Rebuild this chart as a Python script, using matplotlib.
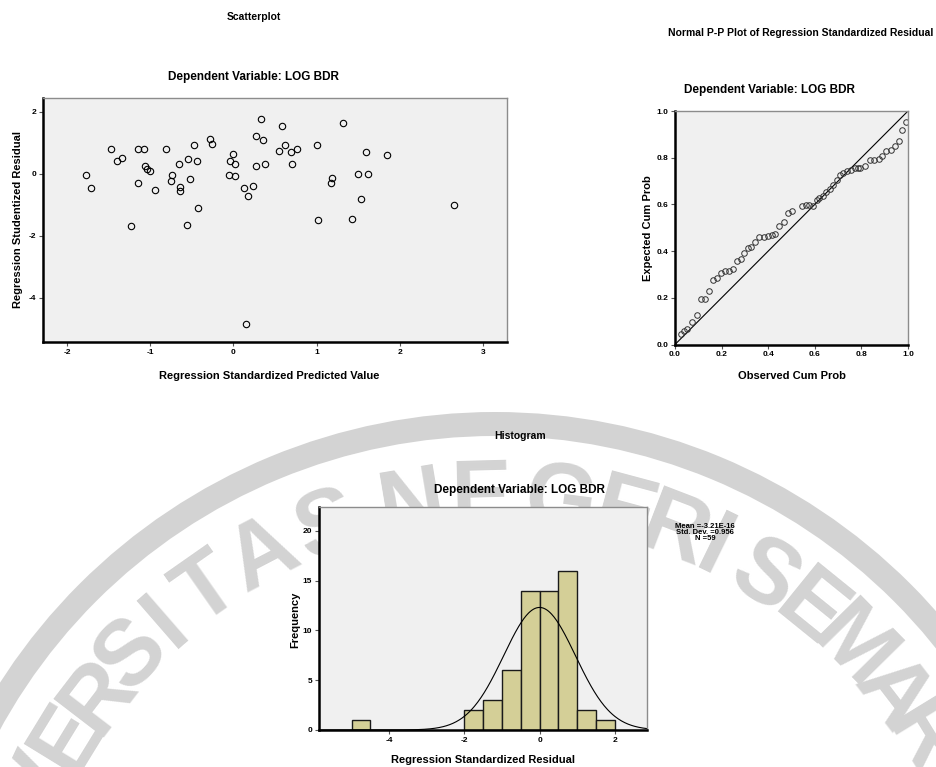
import numpy as np
import matplotlib
matplotlib.use('Agg')
from matplotlib import pyplot as plt
from matplotlib.patches import Wedge

# Scatterplot: standardized predicted value vs studentized residual
pred = [-1.77, -1.71, -1.47, -1.40, -1.34, -1.23, -1.15, -1.07, -1.15, -1.06,
        -1.04, -1.00, -0.94, -0.81, -0.74, -0.75, -0.65, -0.64, -0.64, -0.56,
        -0.55, -0.52, -0.48, -0.44, -0.42, -0.28, -0.26, -0.05, -0.04, 0.00,
        0.02, 0.02, 0.15, 0.13, 0.17, 0.24, 0.27, 0.35, 0.27, 0.33,
        0.38, 0.59, 0.62, 0.55, 0.69, 0.76, 0.71, 1.00, 1.02, 1.32,
        1.59, 1.85, 1.19, 1.17, 1.50, 1.62, 1.53, 2.65, 1.43]
resid = [-0.03, -0.45, 0.78, 0.41, 0.51, -1.70, 0.78, 0.78, -0.31, 0.26,
         0.16, 0.09, -0.53, 0.81, -0.03, -0.23, 0.31, -0.44, -0.57, -1.65,
         0.46, -0.16, 0.91, 0.40, -1.11, 1.13, 0.96, -0.03, 0.42, 0.62,
         0.31, -0.09, -4.84, -0.46, -0.71, -0.41, 1.20, 1.08, 0.26, 1.76,
         0.31, 1.55, 0.94, 0.74, 0.69, 0.81, 0.31, 0.94, -1.51, 1.63,
         0.70, 0.59, -0.14, -0.29, -0.02, 0.00, -0.83, -1.00, -1.45]

# Normal P-P plot
obs_cum = [0.024, 0.040, 0.053, 0.074, 0.093, 0.110, 0.129, 0.148, 0.162, 0.179,
           0.196, 0.215, 0.232, 0.248, 0.265, 0.282, 0.297, 0.312, 0.327, 0.344,
           0.362, 0.380, 0.397, 0.415, 0.431, 0.448, 0.468, 0.484, 0.500, 0.544,
           0.563, 0.577, 0.594, 0.609, 0.620, 0.635, 0.649, 0.666, 0.680, 0.695,
           0.709, 0.723, 0.738, 0.755, 0.774, 0.784, 0.795, 0.817, 0.835, 0.855,
           0.874, 0.888, 0.907, 0.927, 0.945, 0.960, 0.974, 0.993]
exp_cum = [0.047, 0.058, 0.067, 0.097, 0.126, 0.193, 0.196, 0.229, 0.276, 0.284,
           0.305, 0.316, 0.316, 0.322, 0.359, 0.368, 0.394, 0.413, 0.419, 0.437,
           0.460, 0.462, 0.466, 0.470, 0.473, 0.508, 0.523, 0.563, 0.570, 0.594,
           0.598, 0.598, 0.594, 0.620, 0.627, 0.637, 0.652, 0.666, 0.685, 0.706,
           0.728, 0.734, 0.742, 0.749, 0.756, 0.757, 0.756, 0.763, 0.789, 0.792,
           0.795, 0.806, 0.828, 0.835, 0.852, 0.871, 0.918, 0.952]

# Histogram of standardized residuals (bin width 0.5)
bin_left = [-5.0, -2.0, -1.5, -1.0, -0.5, 0.0, 0.5, 1.0, 1.5]
freq = [1, 2, 3, 6, 14, 14, 16, 2, 1]
bin_w = 0.5
res_mean = -3.21e-16
res_sd = 0.956
n_obs = 59

W, H = 936, 767
plt.rcParams['font.family'] = ['Liberation Sans', 'DejaVu Sans']
plt.rcParams['font.weight'] = 'bold'
plt.rcParams['axes.unicode_minus'] = False
fig = plt.figure(figsize=(W / 100, H / 100), dpi=100)


def box(l, t, r, b):
    return [l / W, 1 - b / H, (r - l) / W, (b - t) / H]


def ftext(x, y, s, size, **kw):
    fig.text(x / W, 1 - y / H, s, fontsize=size, fontweight='bold',
             ha=kw.pop('ha', 'center'), va=kw.pop('va', 'center'), **kw)


# faint university watermark behind everything
bg = fig.add_axes([0, 0, 1, 1], zorder=0)
bg.set_xlim(0, W)
bg.set_ylim(H, 0)
bg.axis('off')
wm = '#d3d3d3'
cx, cy, rad = 495, 1000, 500
bg.add_patch(Wedge((cx, cy), 588, 0, 360, width=24, color=wm, lw=0))
letters = [('V', 155), ('E', 148.5), ('R', 142.5), ('S', 136.5), ('I', 131),
           ('T', 125), ('A', 117.5), ('S', 109.5),
           ('N', 99.5), ('E', 91.5), ('G', 82.5), ('E', 75), ('R', 69), ('I', 64),
           ('S', 57.5), ('E', 51), ('M', 44.5), ('A', 37.5), ('R', 31.5), ('A', 25)]
for ch, a in letters:
    t = np.radians(a)
    bg.text(cx + rad * np.cos(t), cy - rad * np.sin(t), ch, rotation=a - 90,
            ha='center', va='center', fontsize=66, fontweight='bold', color=wm)


def style(ax):
    ax.set_facecolor('#f0f0f0')
    for s in ('top', 'right'):
        ax.spines[s].set_color('#8c8c8c')
        ax.spines[s].set_linewidth(1.0)
    for s in ('left', 'bottom'):
        ax.spines[s].set_color('black')
        ax.spines[s].set_linewidth(1.8)
    ax.tick_params(direction='out', length=3, width=0.8, color='#555555',
                   labelsize=6, pad=2)
    for lab in ax.get_xticklabels() + ax.get_yticklabels():
        lab.set_fontweight('bold')


# Scatterplot
ax1 = fig.add_axes(box(43, 98, 507, 342), zorder=1)
ax1.plot(pred, resid, 'o', mfc='none', mec='black', ms=4.6, mew=0.8)
ax1.set_xlim(-2.29, 3.29)
ax1.set_ylim(-5.43, 2.44)
ax1.set_xticks([-2, -1, 0, 1, 2, 3])
ax1.set_yticks([2, 0, -2, -4])
style(ax1)
ftext(254, 17, 'Scatterplot', 7.5)
ftext(254, 77, 'Dependent Variable: LOG BDR', 8.5)
ftext(269, 376, 'Regression Standardized Predicted Value', 8)
ftext(18, 220, 'Regression Studentized Residual', 8, rotation=90)

# Normal P-P plot
ax2 = fig.add_axes(box(675, 111, 908, 344.5), zorder=1)
ax2.plot([0, 1], [0, 1], color='black', lw=0.8)
ax2.plot(obs_cum, exp_cum, 'o', mfc='none', mec='#333333', ms=4.0, mew=0.7)
ax2.set_xlim(0, 1)
ax2.set_ylim(0, 1)
ax2.set_xticks([0, 0.2, 0.4, 0.6, 0.8, 1.0])
ax2.set_yticks([0, 0.2, 0.4, 0.6, 0.8, 1.0])
ax2.set_xticklabels(['0.0', '0.2', '0.4', '0.6', '0.8', '1.0'])
ax2.set_yticklabels(['0.0', '0.2', '0.4', '0.6', '0.8', '1.0'])
style(ax2)
ftext(933, 33, 'Normal P-P Plot of Regression Standardized Residual', 7.5, ha='right')
ftext(770, 90, 'Dependent Variable: LOG BDR', 8.5)
ftext(792, 376, 'Observed Cum Prob', 8)
ftext(648, 228, 'Expected Cum Prob', 8, rotation=90)

# Histogram
ax3 = fig.add_axes(box(319, 507, 647, 730), zorder=1)
ax3.bar(bin_left, freq, width=bin_w, align='edge', color='#d4cf97',
        edgecolor='#1a1a1a', linewidth=1.0)
xs = np.linspace(-5.87, 2.86, 400)
ax3.plot(xs, n_obs * bin_w / (res_sd * np.sqrt(2 * np.pi))
         * np.exp(-0.5 * ((xs - res_mean) / res_sd) ** 2), color='black', lw=0.8)
ax3.set_xlim(-5.87, 2.86)
ax3.set_ylim(0, 22.4)
ax3.set_xticks([-4, -2, 0, 2])
ax3.set_yticks([0, 5, 10, 15, 20])
style(ax3)
ftext(520, 436, 'Histogram', 7.5)
ftext(519, 490, 'Dependent Variable: LOG BDR', 8.5)
ftext(483, 760, 'Regression Standardized Residual', 8)
ftext(295, 620, 'Frequency', 8, rotation=90)
ftext(705, 527, 'Mean =-3.21E-16', 5.5)
ftext(705, 533, 'Std. Dev. =0.956', 5.5)
ftext(705, 539, 'N =59', 5.5)

fig.savefig('out.png', dpi=100)
